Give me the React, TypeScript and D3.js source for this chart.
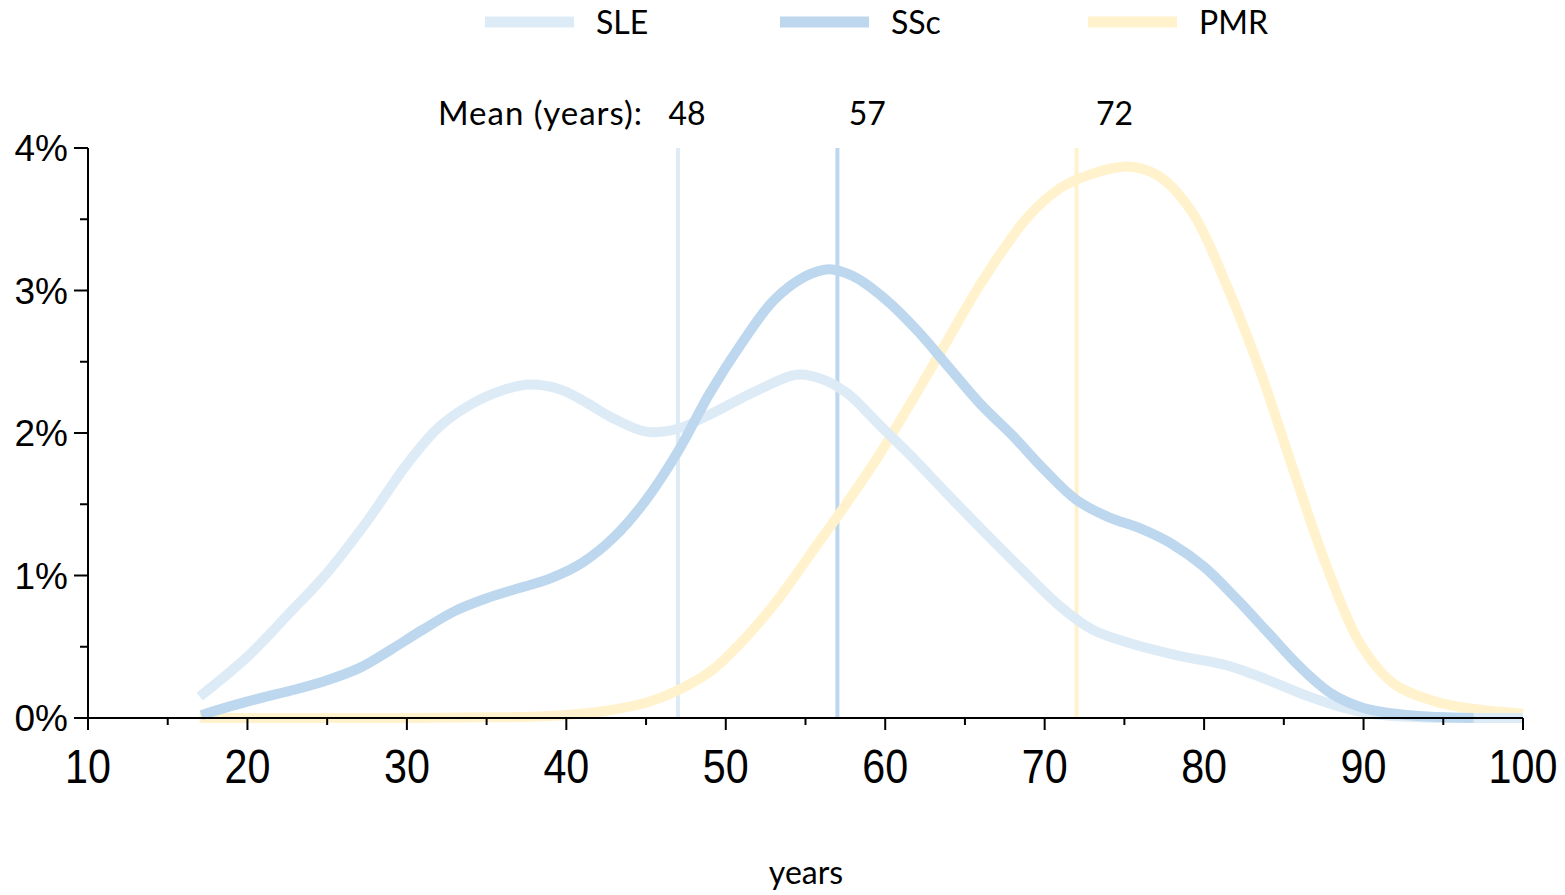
import React from "react";
import * as d3 from "d3";

const seriesNames = ["SLE", "SSc", "PMR"];
const seriesColors = ["#DDEBF7", "#BDD7EE", "#FFF2CC"];

const sleAges = [17.0, 20.0, 22.5, 25.0, 27.5, 30.0, 32.0, 34.0, 36.0, 37.7, 39.5, 41.0, 43.0, 45.0, 47.0, 49.0, 52.0, 54.5, 56.0, 57.6, 59.7, 61.7, 64.0, 66.0, 68.5, 71.0, 73.0, 75.2, 78.3, 81.4, 83.0, 84.6, 86.6, 88.5, 90.5, 93.5, 97.0, 100.0];
const sleValues = [0.15, 0.43, 0.72, 1.02, 1.38, 1.78, 2.04, 2.2, 2.3, 2.34, 2.31, 2.23, 2.1, 2.01, 2.03, 2.13, 2.3, 2.41, 2.38, 2.28, 2.05, 1.83, 1.56, 1.33, 1.05, 0.78, 0.62, 0.53, 0.44, 0.37, 0.31, 0.24, 0.15, 0.08, 0.03, 0.005, 0.0, 0.0];

const sscAges = [17.1, 19.0, 21.0, 23.0, 25.0, 27.0, 29.0, 31.0, 33.0, 35.0, 37.0, 39.0, 41.0, 43.0, 45.0, 47.0, 49.0, 51.0, 53.0, 55.0, 56.5, 58.0, 60.0, 62.0, 64.0, 66.0, 68.0, 70.0, 72.0, 74.0, 76.0, 78.0, 80.0, 82.0, 84.0, 86.0, 88.0, 90.0, 92.0, 94.0, 96.9];
const sscValues = [0.02, 0.085, 0.145, 0.2, 0.265, 0.35, 0.48, 0.62, 0.75, 0.84, 0.91, 0.98, 1.09, 1.27, 1.53, 1.87, 2.28, 2.63, 2.93, 3.1, 3.15, 3.1, 2.94, 2.72, 2.46, 2.2, 1.98, 1.74, 1.53, 1.41, 1.33, 1.22, 1.06, 0.84, 0.6, 0.36, 0.17, 0.07, 0.03, 0.01, 0.0];

const pmrAges = [17.0, 25.0, 30.0, 35.0, 38.3, 40.9, 43.0, 45.1, 47.1, 49.2, 51.3, 53.4, 55.5, 57.6, 59.7, 61.7, 63.9, 66.0, 68.9, 71.0, 73.0, 75.2, 77.2, 79.3, 81.4, 83.5, 85.6, 87.7, 89.8, 91.9, 94.4, 96.5, 100.0];
const pmrValues = [0.0, 0.0, 0.0, 0.005, 0.01, 0.03, 0.06, 0.11, 0.2, 0.34, 0.57, 0.85, 1.18, 1.51, 1.86, 2.23, 2.65, 3.05, 3.51, 3.72, 3.82, 3.87, 3.8, 3.54, 3.04, 2.44, 1.74, 1.06, 0.52, 0.24, 0.12, 0.07, 0.03];

const meanLineAges = [47, 57, 72];
const meanLabels = ["48", "57", "72"];
const meanLabelOffsets = [9, 30, 38];

const xTicks = [10, 20, 30, 40, 50, 60, 70, 80, 90, 100];
const xMinorTicks = [15, 25, 35, 45, 55, 65, 75, 85, 95];
const yTicks = [0, 1, 2, 3, 4];
const yMinorTicks = [0.5, 1.5, 2.5, 3.5];

const W = 1565;
const H = 895;

export default function App() {
  const x = d3.scaleLinear().domain([10, 100]).range([88, 1523]);
  const y = d3.scaleLinear().domain([0, 4]).range([718, 148]);

  const line = d3
    .line<[number, number]>()
    .x((d) => x(d[0]))
    .y((d) => y(d[1]))
    .curve(d3.curveCatmullRom.alpha(0.5));

  const series = [
    { ages: sleAges, values: sleValues },
    { ages: sscAges, values: sscValues },
    { ages: pmrAges, values: pmrValues },
  ];
  const drawOrder = [2, 0, 1];

  const legendX = [485, 780, 1088];
  const calibri = "Lato, 'Open Sans', sans-serif";
  const arial = "'Liberation Sans', Arial, sans-serif";

  return (
    <svg
      width={W}
      height={H}
      style={{ position: "absolute", left: 0, top: 0, background: "#fff" }}
    >
      {seriesNames.map((n, i) => (
        <g key={n}>
          <line
            x1={legendX[i]}
            x2={legendX[i] + 89}
            y1={22}
            y2={22}
            stroke={seriesColors[i]}
            strokeWidth={11}
          />
          <text
            x={legendX[i] + 111}
            y={34}
            fontFamily={calibri}
            fontSize={32}
            fill="#000"
          >
            {n}
          </text>
        </g>
      ))}

      <text
        x={438}
        y={125}
        fontFamily={calibri}
        fontSize={33}
        textLength={204}
        lengthAdjust="spacing"
        fill="#000"
      >
        Mean (years):
      </text>
      {meanLineAges.map((a, i) => (
        <text
          key={"ml" + i}
          x={x(a) + meanLabelOffsets[i]}
          y={125}
          textAnchor="middle"
          fontFamily={calibri}
          fontSize={32}
          fill="#000"
        >
          {meanLabels[i]}
        </text>
      ))}

      {meanLineAges.map((a, i) => (
        <line
          key={"m" + i}
          x1={x(a)}
          x2={x(a)}
          y1={y(4)}
          y2={y(0)}
          stroke={seriesColors[i]}
          strokeWidth={4}
        />
      ))}

      {drawOrder.map((i) => {
        const s = series[i];
        const pts: [number, number][] = s.ages.map((a, k) => [a, s.values[k]]);
        return (
          <path
            key={"c" + i}
            d={line(pts) || ""}
            fill="none"
            stroke={seriesColors[i]}
            strokeWidth={10}
            strokeLinejoin="round"
          />
        );
      })}

      <line x1={88} x2={88} y1={y(4)} y2={y(0)} stroke="#000" strokeWidth={2} />
      {yTicks.map((t) => (
        <g key={"yt" + t}>
          <line x1={74} x2={88} y1={y(t)} y2={y(t)} stroke="#000" strokeWidth={2} />
          <text
            x={68}
            y={y(t) + 13}
            textAnchor="end"
            fontFamily={arial}
            fontSize={37}
            fill="#000"
          >
            {t + "%"}
          </text>
        </g>
      ))}
      {yMinorTicks.map((t) => (
        <line key={"ym" + t} x1={80} x2={88} y1={y(t)} y2={y(t)} stroke="#000" strokeWidth={2} />
      ))}

      <line x1={x(10)} x2={x(100)} y1={y(0)} y2={y(0)} stroke="#000" strokeWidth={2} />
      {xTicks.map((t) => (
        <g key={"xt" + t}>
          <line x1={x(t)} x2={x(t)} y1={y(0)} y2={y(0) + 12} stroke="#000" strokeWidth={2} />
          <text
            transform={`translate(${x(t)},783) scale(0.86,1)`}
            textAnchor="middle"
            fontFamily={arial}
            fontSize={48}
            fill="#000"
          >
            {t}
          </text>
        </g>
      ))}
      {xMinorTicks.map((t) => (
        <line key={"xm" + t} x1={x(t)} x2={x(t)} y1={y(0)} y2={y(0) + 7} stroke="#000" strokeWidth={2} />
      ))}

      <text
        x={806}
        y={884}
        textAnchor="middle"
        fontFamily={calibri}
        fontSize={32}
        fill="#000"
      >
        years
      </text>
    </svg>
  );
}
